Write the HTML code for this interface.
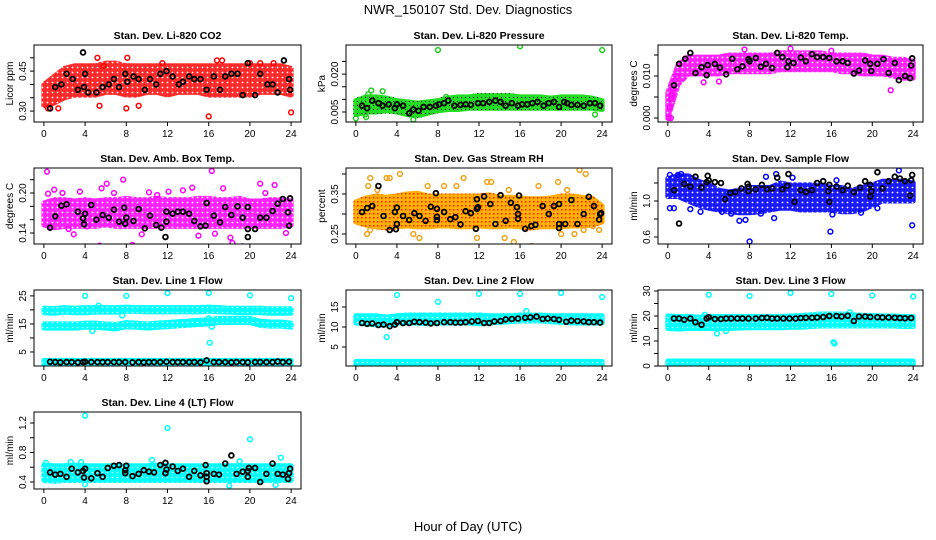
<!DOCTYPE html>
<html><head><meta charset="utf-8"><style>
body{margin:0;background:#fff}
svg{display:block}
text{font-family:"Liberation Sans",sans-serif}
</style></head><body>
<svg id="c" width="936" height="540" xmlns="http://www.w3.org/2000/svg">
<defs>
<pattern id="pat-red" width="5" height="5" patternUnits="userSpaceOnUse"><rect width="5" height="5" fill="#ff2a2a"/><circle cx="2.5" cy="2.5" r="0.9" fill="#fff"/></pattern>
<pattern id="pat-green" width="4" height="4" patternUnits="userSpaceOnUse"><rect width="4" height="4" fill="#22dd22"/><rect x="1" y="1" width="1" height="1" fill="#000"/></pattern>
<pattern id="pat-mag" width="5" height="5" patternUnits="userSpaceOnUse"><rect width="5" height="5" fill="#ff22ff"/><circle cx="2.5" cy="2.5" r="0.9" fill="#fff"/></pattern>
<pattern id="pat-orange" width="4" height="4" patternUnits="userSpaceOnUse"><rect width="4" height="4" fill="#ffb000"/><rect x="1" y="1" width="1.5" height="1.5" fill="#ff2000"/></pattern>
<pattern id="pat-blue" width="5" height="5" patternUnits="userSpaceOnUse"><rect width="5" height="5" fill="#1a1aff"/><circle cx="2.5" cy="2.5" r="0.9" fill="#fff"/></pattern>
<pattern id="pat-cyan" width="5" height="5" patternUnits="userSpaceOnUse"><rect width="5" height="5" fill="#00ffff"/><circle cx="2.5" cy="2.5" r="0.8" fill="#dfffff"/></pattern>
</defs>
<rect width="936" height="540" fill="#fff"/>
<text x="468" y="14" text-anchor="middle" font-size="13">NWR_150107  Std. Dev. Diagnostics</text>
<text x="468" y="531" text-anchor="middle" font-size="13">Hour of Day (UTC)</text>
</svg>
<script>
const hours=[0,1,2,3,4,5,6,7,8,9,10,11,12,13,14,15,16,17,18,19,20,21,22,23,24];
// P1 CO2
const co2Lo=[0.32,0.33,0.35,0.36,0.36,0.36,0.37,0.37,0.36,0.36,0.37,0.37,0.36,0.37,0.37,0.37,0.36,0.36,0.36,0.36,0.36,0.37,0.37,0.37,0.36];
const co2Hi=[0.40,0.43,0.46,0.47,0.47,0.47,0.48,0.48,0.47,0.47,0.47,0.47,0.47,0.47,0.47,0.47,0.47,0.47,0.47,0.47,0.47,0.47,0.47,0.47,0.46];
const co2OutX=[5.2,8.1,8.0,16.0,24.0,16.8,17.3,20.0,21.0,22.3,5.8,0.4,1.4,9.2,5.4,11.5];
const co2OutY=[0.50,0.50,0.31,0.28,0.295,0.49,0.49,0.48,0.48,0.48,0.47,0.31,0.31,0.32,0.32,0.48];
const co2BlkX=[3.8,0.6,1.1,1.7,2.2,2.8,3.3,3.9,4.0,4.3,5.1,5.7,6.3,6.8,7.3,7.9,8.1,8.7,9.2,9.8,10.3,10.9,11.3,11.9,12.5,13.1,13.5,14.1,14.6,15.2,15.8,16.5,17.1,17.6,18.2,18.8,19.3,19.8,20.5,21.0,21.7,22.2,22.7,23.3,23.8,23.9];
const co2BlkY=[0.52,0.31,0.39,0.40,0.44,0.42,0.38,0.39,0.44,0.37,0.37,0.39,0.40,0.42,0.39,0.44,0.41,0.43,0.42,0.38,0.42,0.40,0.44,0.45,0.43,0.40,0.41,0.43,0.42,0.42,0.38,0.43,0.38,0.43,0.44,0.44,0.36,0.48,0.36,0.44,0.40,0.40,0.37,0.49,0.42,0.38];
// P2 Pressure
const prLo=[0.004,0.005,0.005,0.0055,0.005,0.004,0.0035,0.0045,0.0055,0.006,0.006,0.0065,0.0065,0.0065,0.0065,0.0065,0.0065,0.0065,0.0065,0.0065,0.0065,0.0065,0.0065,0.0065,0.006];
const prHi=[0.0095,0.011,0.011,0.0105,0.0095,0.009,0.0085,0.009,0.0095,0.0105,0.011,0.011,0.0115,0.0115,0.0115,0.0115,0.011,0.011,0.011,0.0105,0.011,0.011,0.011,0.0105,0.0095];
const prOutX=[8,16,24,1.5,2.6,0,1,8.8,5.6,23.3,0.9,1.2];
const prOutY=[0.0295,0.031,0.0295,0.0135,0.0132,0.0025,0.003,0.011,0.002,0.004,0.004,0.012];
const prBlkX=[0.6,1.1,1.6,2.2,2.6,3.2,3.8,4.0,4.6,5.2,5.6,6.1,6.6,7.2,7.8,8.1,8.6,9.0,9.6,10.2,10.7,11.2,11.9,12.4,13.0,13.6,14.1,14.6,15.2,15.8,16.2,16.7,17.2,17.7,18.3,18.8,19.3,19.8,20.3,20.6,21.0,21.6,22.2,22.8,23.3,23.8];
const prBlkY=[0.0075,0.0065,0.0095,0.0085,0.0075,0.008,0.0065,0.008,0.0075,0.0045,0.006,0.0055,0.007,0.007,0.0075,0.008,0.0085,0.0095,0.0075,0.0078,0.008,0.0078,0.0085,0.0085,0.009,0.0095,0.009,0.0075,0.0085,0.0075,0.008,0.008,0.0085,0.009,0.0075,0.0085,0.009,0.007,0.009,0.0085,0.0078,0.0078,0.0075,0.0085,0.0085,0.0075];
// P3 Li-820 Temp
const ltLo=[0.0,0.008,0.0105,0.0105,0.0105,0.0105,0.011,0.011,0.011,0.011,0.011,0.0115,0.0115,0.0115,0.0115,0.0115,0.0115,0.011,0.011,0.0105,0.0105,0.0105,0.010,0.0095,0.0095];
const ltHi=[0.006,0.0125,0.0145,0.0145,0.0145,0.0145,0.015,0.015,0.015,0.015,0.015,0.0155,0.0155,0.0155,0.0155,0.0155,0.015,0.015,0.015,0.015,0.0145,0.0145,0.014,0.014,0.0135];
const ltOutX=[0.1,0.3,0.2,0.3,0.4,0.5,21.8,16.0,12.0,7.5,3.5,5.0,0.7,0.9];
const ltOutY=[0.0,0.0,0.0025,0.0045,0.0055,0.007,0.0066,0.016,0.0165,0.0163,0.0085,0.0087,0.009,0.010];
const ltBlkX=[0.6,1.1,1.7,2.2,2.7,3.3,3.8,3.9,4.6,5.1,5.7,6.3,6.8,7.3,7.9,8.0,8.6,9.1,9.6,10.2,10.7,11.2,11.7,11.8,12.3,13.0,13.5,14.1,14.6,15.2,15.8,16.5,17.1,17.6,18.2,18.7,19.3,19.8,19.9,20.5,21.1,21.6,22.2,22.6,23.2,23.7,23.8,23.9];
const ltBlkY=[0.0078,0.0129,0.0141,0.0155,0.0107,0.0121,0.0102,0.0126,0.0129,0.0120,0.0104,0.0141,0.0116,0.0123,0.0140,0.0135,0.0143,0.0122,0.0129,0.0119,0.0155,0.0145,0.0121,0.0135,0.0131,0.0144,0.0135,0.0152,0.0145,0.0145,0.0143,0.0135,0.0135,0.0131,0.0106,0.0113,0.0137,0.0129,0.0112,0.0129,0.0140,0.0107,0.0131,0.0090,0.0100,0.0095,0.0125,0.0142];
// P4 Amb box temp
const abLo=[0.152,0.148,0.150,0.150,0.150,0.150,0.152,0.150,0.150,0.150,0.150,0.150,0.150,0.150,0.150,0.150,0.150,0.150,0.150,0.150,0.150,0.150,0.150,0.150,0.152];
const abHi=[0.185,0.190,0.190,0.188,0.190,0.188,0.190,0.190,0.192,0.190,0.190,0.192,0.190,0.190,0.190,0.192,0.192,0.190,0.190,0.192,0.188,0.188,0.190,0.190,0.188];
const abOutX=[0.3,0.4,1.0,1.8,2.4,2.9,4.2,5.4,5.6,6.1,6.8,7.7,8.6,9.5,10.2,12.1,13.5,14.4,15.0,16.3,16.6,17.4,18.1,18.3,19.3,21.0,21.5,22.4,23.5,3.5,11.0];
const abOutY=[0.232,0.199,0.205,0.200,0.146,0.138,0.150,0.121,0.207,0.214,0.200,0.220,0.122,0.138,0.201,0.202,0.204,0.208,0.136,0.233,0.139,0.207,0.133,0.125,0.120,0.214,0.200,0.212,0.140,0.202,0.197];
const abBlkX=[0.6,1.1,1.7,2.2,3.3,3.8,3.9,4.0,4.6,5.1,5.7,6.3,6.8,7.3,7.8,7.9,8.0,8.7,9.2,9.8,10.3,10.9,11.4,11.9,11.9,11.8,12.5,13.0,13.5,14.1,14.6,15.2,15.7,15.8,16.5,17.1,17.6,18.2,18.8,19.3,19.8,19.8,19.8,20.5,21.0,21.6,22.2,22.7,23.2,23.7,23.8,23.9];
const abBlkY=[0.148,0.165,0.181,0.183,0.172,0.162,0.153,0.169,0.182,0.160,0.167,0.163,0.175,0.157,0.178,0.154,0.163,0.158,0.176,0.147,0.166,0.152,0.148,0.172,0.157,0.134,0.169,0.172,0.172,0.169,0.158,0.150,0.151,0.185,0.166,0.156,0.179,0.167,0.180,0.163,0.179,0.146,0.134,0.146,0.163,0.163,0.173,0.184,0.191,0.171,0.151,0.192];
// P5 Gas stream RH
const rhLo=[0.280,0.272,0.268,0.265,0.268,0.270,0.268,0.268,0.270,0.270,0.268,0.268,0.270,0.268,0.268,0.270,0.268,0.265,0.268,0.268,0.268,0.270,0.270,0.272,0.280];
const rhHi=[0.330,0.340,0.345,0.342,0.345,0.350,0.352,0.345,0.345,0.345,0.345,0.345,0.345,0.348,0.342,0.342,0.340,0.338,0.338,0.340,0.345,0.345,0.342,0.340,0.320];
const rhOutX=[1.2,1.4,1.4,1.1,2.1,3.0,3.3,4.3,5.6,6.2,7.0,8.6,9.8,10.5,11.8,12.8,13.2,14.5,14.9,15.4,17.1,17.8,20.0,20.6,21.3,22.2,22.4,23.1,19.7,23.7,21.8];
const rhOutY=[0.37,0.39,0.26,0.25,0.36,0.39,0.39,0.40,0.25,0.24,0.37,0.37,0.37,0.39,0.24,0.38,0.38,0.24,0.36,0.23,0.22,0.37,0.25,0.36,0.25,0.26,0.40,0.27,0.38,0.26,0.41];
const rhBlkX=[0.6,1.1,1.6,2.2,2.7,3.3,3.8,3.9,4.0,4.0,4.6,5.2,5.7,6.2,6.8,7.3,7.8,7.9,7.9,7.9,8.6,9.2,9.7,10.2,10.7,11.2,11.8,11.8,11.9,11.7,12.5,13.1,13.6,14.1,14.6,15.1,15.7,15.8,15.8,15.9,16.5,17.1,17.5,18.2,18.8,19.3,19.8,19.8,19.8,20.4,21.0,21.6,22.2,22.7,23.2,23.7,23.8,23.9];
const rhBlkY=[0.305,0.315,0.32,0.37,0.295,0.26,0.305,0.262,0.316,0.275,0.295,0.285,0.302,0.295,0.283,0.318,0.352,0.313,0.293,0.285,0.305,0.287,0.292,0.274,0.307,0.302,0.313,0.337,0.317,0.263,0.344,0.325,0.275,0.347,0.283,0.328,0.317,0.30,0.288,0.346,0.263,0.27,0.273,0.32,0.30,0.32,0.325,0.275,0.265,0.275,0.335,0.275,0.30,0.343,0.32,0.286,0.30,0.302];
// P6 Sample flow
const sfLo=[1.05,1.05,1.00,0.95,0.92,0.90,0.88,0.87,0.87,0.88,0.90,0.92,0.92,0.90,0.90,0.90,0.90,0.88,0.88,0.90,0.95,1.00,1.00,1.00,1.00];
const sfHi=[1.25,1.28,1.28,1.22,1.18,1.12,1.10,1.12,1.15,1.15,1.15,1.20,1.18,1.18,1.18,1.18,1.15,1.15,1.12,1.15,1.18,1.22,1.22,1.22,1.20];
const sfOutX=[0.2,1.0,1.3,0.2,0.6,2.2,3.2,5.3,6.2,7.0,7.6,8.0,9.1,9.6,10.4,10.6,12.2,15.9,16.1,16.5,18.9,22.6,23.9,20.5];
const sfOutY=[1.29,1.29,1.30,0.92,0.92,0.91,0.88,0.88,0.86,0.78,0.79,0.55,0.86,1.27,0.81,1.30,1.26,0.66,0.85,1.23,0.87,1.34,0.73,0.92];
const sfBlkX=[0.6,1.1,1.6,2.2,2.7,3.3,3.8,3.9,4.0,4.6,5.2,5.6,6.1,6.6,7.2,7.8,7.9,7.9,8.6,9.2,9.7,10.2,10.7,11.2,11.7,11.8,12.4,13.0,13.5,14.1,14.6,15.2,15.7,15.8,15.8,16.5,17.1,17.6,18.2,18.8,19.3,19.8,19.8,19.9,20.5,21.0,21.6,22.2,22.7,23.2,23.7,23.8,23.9];
const sfBlkY=[1.12,0.75,1.19,1.16,1.27,1.15,1.21,1.28,1.23,1.21,1.20,1.02,1.09,1.10,1.14,1.19,1.16,1.11,1.13,1.18,1.13,1.14,1.26,1.13,1.17,1.30,0.99,1.12,1.10,1.12,1.20,1.22,1.11,0.99,1.18,1.16,1.12,1.17,1.10,1.15,1.22,1.18,1.05,1.11,1.32,1.14,1.22,1.27,1.25,1.22,1.06,1.23,1.29];
// shared black x for line-flow panels
const lineBlkX=[0.6,1.1,1.6,2.2,2.7,3.3,3.8,4.0,4.6,5.2,5.7,6.2,6.8,7.3,7.9,8.6,9.2,9.7,10.2,10.7,11.3,11.9,12.5,13.0,13.5,14.1,14.6,15.2,15.8,16.5,17.0,17.6,18.2,18.7,19.3,19.8,20.5,21.0,21.6,22.2,22.7,23.2,23.8];
// P7 Line 1
const l1UpLo=[19.0,18.8,19.2,19.0,19.0,19.2,19.2,19.2,19.5,19.5,19.3,19.3,19.3,19.3,19.3,19.3,19.5,19.3,19.2,19.0,19.0,19.0,18.8,18.8,18.8];
const l1UpHi=[20.6,20.5,20.8,20.6,20.8,20.8,20.8,20.8,21.0,20.8,20.8,20.8,20.8,20.8,20.8,20.8,21.0,20.8,20.6,20.6,20.6,20.6,20.4,20.4,20.4];
const l1MdLo=[13.5,13.5,13.5,13.5,13.8,13.8,13.5,13.2,14.0,13.8,13.5,13.8,14.0,14.3,14.5,14.8,15.0,15.5,15.5,15.5,15.5,14.5,14.2,14.2,13.8];
const l1MdHi=[15.0,15.0,15.0,15.0,15.3,15.3,15.0,14.8,15.5,15.3,15.0,15.3,15.5,15.8,16.0,16.3,16.5,17.0,17.0,17.0,17.0,16.0,15.7,15.7,15.3];
const l1BtLo=[0.6,0.6,0.6,0.6,0.6,0.6,0.6,0.6,0.6,0.6,0.6,0.6,0.6,0.6,0.6,0.6,0.6,0.6,0.6,0.6,0.6,0.6,0.6,0.6,0.6];
const l1BtHi=[2.0,2.0,2.0,2.0,2.0,2.0,2.0,2.0,2.0,2.0,2.0,2.0,2.0,2.0,2.0,2.0,2.0,2.0,2.0,2.0,2.0,2.0,2.0,2.0,2.0];
const l1OutX=[4,8,12,16,20,24,16.1,16.3,16.0,5.3,4.7,7.6];
const l1OutY=[25,25,26,26,25.2,24.2,8.3,14,17,21.5,12.5,18];
const l1BlkY=[1.5,1.4,1.3,1.4,1.4,1.3,1.4,1.5,1.4,1.4,1.4,1.4,1.4,1.4,1.4,1.3,1.4,1.3,1.4,1.4,1.4,1.5,1.4,1.4,1.4,1.4,1.4,1.3,2.0,1.4,1.4,1.4,1.3,1.4,1.4,1.3,1.4,1.4,1.4,1.4,1.6,1.4,1.5];
// P8 Line 2
const l2UpLo=[11.0,10.8,10.5,10.5,11.0,11.0,11.0,10.8,11.0,11.0,11.0,11.0,10.8,11.0,11.2,11.3,11.5,11.5,11.5,11.3,11.2,11.0,11.0,11.0,11.0];
const l2UpHi=[12.8,12.8,12.8,12.5,12.8,13.0,13.0,13.0,13.0,13.0,13.0,13.0,13.0,12.8,12.8,12.8,13.0,13.0,13.0,12.8,12.8,12.8,12.8,12.8,12.8];
const l2BtLo=[0.5,0.5,0.5,0.5,0.5,0.5,0.5,0.5,0.5,0.5,0.5,0.5,0.5,0.5,0.5,0.5,0.5,0.5,0.5,0.5,0.5,0.5,0.5,0.5,0.5];
const l2BtHi=[1.4,1.4,1.4,1.4,1.4,1.4,1.4,1.4,1.4,1.4,1.4,1.4,1.4,1.4,1.4,1.4,1.4,1.4,1.4,1.4,1.4,1.4,1.4,1.4,1.4];
const l2OutX=[4,8,12,16,20,24,3,16.6];
const l2OutY=[18,16.3,18.3,18.3,18.5,17.5,7.5,14];
const l2BlkY=[11,10.8,10.9,10.5,10.6,10.2,10.6,11.2,11,11,11.3,11.2,11.1,10.9,11,11.2,11.2,11.1,11.1,11.2,11.4,11.5,11,11,11.4,11.5,11.9,12,12.1,12.3,12.4,12.6,12,12.1,12,11.8,11.3,11.6,11.5,11.4,11.2,11.2,11.1];
// P9 Line 3
const l3UpLo=[15.0,14.8,15.0,15.0,15.0,15.0,15.0,15.2,15.3,15.3,15.3,15.3,15.5,15.5,15.8,16.0,16.0,16.0,16.0,16.0,16.0,16.0,16.0,15.8,15.8];
const l3UpHi=[20.0,19.8,19.8,19.5,19.8,19.8,19.8,19.8,19.8,19.8,19.8,19.8,20.0,20.2,20.5,20.8,20.8,20.8,20.5,20.3,20.2,20.0,20.0,19.8,19.8];
const l3BtLo=[0.6,0.6,0.6,0.6,0.6,0.6,0.6,0.6,0.6,0.6,0.6,0.6,0.6,0.6,0.6,0.6,0.6,0.6,0.6,0.6,0.6,0.6,0.6,0.6,0.6];
const l3BtHi=[2.0,2.0,2.0,2.0,2.0,2.0,2.0,2.0,2.0,2.0,2.0,2.0,2.0,2.0,2.0,2.0,2.0,2.0,2.0,2.0,2.0,2.0,2.0,2.0,2.0];
const l3OutX=[4,8,12,16,20,24,16.2,16.3,4.8,5.7,3.6,17.8];
const l3OutY=[28.5,28,29.2,28.8,28.2,27.8,9.5,9,13,14,20.5,21.5];
const l3BlkY=[19,19,18.5,19,17.5,16.5,19,19.5,18.8,18.8,19,19,19,19,19,19,19.2,19.3,19,19,19,19,19,19.2,19.3,19.3,19.4,19.6,20,20,19.8,20.1,18,19.8,19.8,19.6,19.5,19.4,19.4,19.3,19.2,19.1,19.2];
// P10 Line 4
const l4Lo=[0.42,0.41,0.42,0.42,0.42,0.42,0.42,0.42,0.42,0.42,0.42,0.42,0.42,0.42,0.42,0.42,0.42,0.42,0.42,0.42,0.42,0.42,0.42,0.42,0.42];
const l4Hi=[0.63,0.62,0.62,0.63,0.62,0.62,0.62,0.62,0.62,0.62,0.62,0.63,0.62,0.62,0.62,0.62,0.62,0.62,0.62,0.62,0.62,0.62,0.62,0.62,0.62];
const l4OutX=[4,12,20,4,18,22.5,23,10.5,19,0.2,2.6,3.6];
const l4OutY=[1.30,1.13,0.98,0.37,0.35,0.36,0.73,0.70,0.68,0.66,0.67,0.67];
const l4BlkX=[0.6,1.1,1.6,2.2,2.7,3.3,3.8,3.9,4.0,4.6,5.2,5.7,6.2,6.8,7.3,7.9,7.9,8.0,8.6,9.2,9.7,10.2,10.7,11.3,11.8,11.8,11.9,12.5,13.0,13.5,14.1,14.6,15.2,15.7,15.8,15.8,15.8,16.5,17.0,17.6,18.2,18.7,19.3,19.8,19.8,19.9,20.5,21.0,21.6,22.2,22.7,23.2,23.7,23.8,23.9];
const l4BlkY=[0.53,0.50,0.51,0.47,0.58,0.53,0.55,0.46,0.58,0.45,0.52,0.47,0.59,0.62,0.63,0.56,0.52,0.62,0.48,0.51,0.56,0.54,0.53,0.63,0.66,0.52,0.57,0.61,0.55,0.58,0.47,0.55,0.49,0.63,0.52,0.41,0.47,0.51,0.50,0.65,0.76,0.51,0.54,0.55,0.47,0.59,0.59,0.40,0.51,0.65,0.51,0.50,0.44,0.52,0.58];
const xTicks=[0,4,8,12,16,20,24];

const NS='http://www.w3.org/2000/svg';
const svg=document.getElementById('c');
function mk(tag,attrs,parent){const e=document.createElementNS(NS,tag);for(const k in attrs)e.setAttribute(k,attrs[k]);(parent||svg).appendChild(e);return e;}
const cols=[[34,301],[346,612],[658,923]];
const rows=[[45,122],[168,244],[290,366],[412,489]];

function panel(o){
  const [L,R]=cols[o.col],[T,B]=rows[o.row];
  const g=mk('g',{});
  
  
  const xs=v=>L+(v+0.96)/25.92*(R-L);
  const ys=v=>B-(v-o.y0)/(o.y1-o.y0)*(B-T);
  const clip='cl'+o.name;
  const cp=mk('clipPath',{id:clip},g);mk('rect',{x:L,y:T,width:R-L,height:B-T},cp);
  const pg=mk('g',{'clip-path':'url(#'+clip+')'},g);
  (o.bands||[]).forEach(b=>{
    let pts=hours.map((h,i)=>xs(h)+','+ys(b[1][i]));
    for(let i=hours.length-1;i>=0;i--)pts.push(xs(hours[i])+','+ys(b[0][i]));
    const p=mk('polygon',{points:pts.join(' '),fill:'url(#'+o.pat+')',stroke:'url(#'+o.pat+')','stroke-width':5,'stroke-linejoin':'round'},pg);
    
    
  });
  (o.outX||[]).forEach((x,i)=>{
    const c=mk('circle',{cx:xs(x),cy:ys(o.outY[i]),r:2.4,fill:'none',stroke:o.color,'stroke-width':1.5},pg);
    
    
  });
  (o.blkX||[]).forEach((x,i)=>{
    const c=mk('circle',{cx:xs(x),cy:ys(o.blkY[i]),r:2.4,fill:'none',stroke:'#000','stroke-width':1.8},pg);
    
    
  });
  mk('rect',{x:L,y:T,width:R-L,height:B-T,fill:'none',stroke:'#000','stroke-width':1},g);
  const t=mk('text',{x:(L+R)/2,y:T-6,'text-anchor':'middle','font-size':10.5,'font-weight':'bold'},g);
  t.textContent=o.title;
  
  
  xTicks.forEach(v=>{
    mk('line',{x1:xs(v),x2:xs(v),y1:B,y2:B+4,stroke:'#000'},g);
    const tx=mk('text',{x:xs(v),y:B+15,'text-anchor':'middle','font-size':10},g);
    tx.textContent=v;
    
    
  });
  o.yt.forEach(v=>{
    mk('line',{x1:L-4,x2:L,y1:ys(v),y2:ys(v),stroke:'#000'},g);
  });
  o.yl.forEach(v=>{
    const y=ys(parseFloat(v));
    const tx=mk('text',{x:L-8,y:y,'text-anchor':'middle','font-size':10,transform:`rotate(-90 ${L-8} ${y})`},g);
    tx.textContent=v;
    
    
  });
  const yc=(T+B)/2;
  const ya=mk('text',{x:L-21,y:yc,'text-anchor':'middle','font-size':10,transform:`rotate(-90 ${L-21} ${yc})`},g);
  ya.textContent=o.ylab;
  
  
}
panel({name:'co2-panel',col:0,row:0,title:'Stan. Dev. Li-820 CO2',ylab:'Licor ppm',color:'#ff0000',pat:'pat-red',y0:0.259,y1:0.548,yt:[0.30,0.35,0.40,0.45,0.50],yl:['0.30','0.45'],bands:[[co2Lo,co2Hi]],outX:co2OutX,outY:co2OutY,blkX:co2BlkX,blkY:co2BlkY});
panel({name:'pressure-panel',col:1,row:0,title:'Stan. Dev. Li-820 Pressure',ylab:'kPa',color:'#22cc22',pat:'pat-green',y0:0.00105,y1:0.0315,yt:[0.005,0.010,0.015,0.020,0.025],yl:['0.005','0.020'],bands:[[prLo,prHi]],outX:prOutX,outY:prOutY,blkX:prBlkX,blkY:prBlkY});
panel({name:'licor-temp-panel',col:2,row:0,title:'Stan. Dev. Li-820 Temp.',ylab:'degrees C',color:'#ff00ff',pat:'pat-mag',y0:-0.00095,y1:0.01738,yt:[0,0.005,0.010,0.015],yl:['0.000','0.010'],bands:[[ltLo,ltHi]],outX:ltOutX,outY:ltOutY,blkX:ltBlkX,blkY:ltBlkY});
panel({name:'amb-box-temp-panel',col:0,row:1,title:'Stan. Dev. Amb. Box Temp.',ylab:'degrees C',color:'#ff00ff',pat:'pat-mag',y0:0.1235,y1:0.2375,yt:[0.14,0.16,0.18,0.20,0.22],yl:['0.14','0.20'],bands:[[abLo,abHi]],outX:abOutX,outY:abOutY,blkX:abBlkX,blkY:abBlkY});
panel({name:'gas-rh-panel',col:1,row:1,title:'Stan. Dev. Gas Stream RH',ylab:'percent',color:'#f2a21c',pat:'pat-orange',y0:0.225,y1:0.415,yt:[0.25,0.30,0.35,0.40],yl:['0.25','0.35'],bands:[[rhLo,rhHi]],outX:rhOutX,outY:rhOutY,blkX:rhBlkX,blkY:rhBlkY});
panel({name:'sample-flow-panel',col:2,row:1,title:'Stan. Dev. Sample Flow',ylab:'ml/min',color:'#0000ff',pat:'pat-blue',y0:0.522,y1:1.367,yt:[0.6,0.8,1.0,1.2],yl:['0.6','1.0'],bands:[[sfLo,sfHi]],outX:sfOutX,outY:sfOutY,blkX:sfBlkX,blkY:sfBlkY});
panel({name:'line1-flow-panel',col:0,row:2,title:'Stan. Dev. Line 1 Flow',ylab:'ml/min',color:'#00ffff',pat:'pat-cyan',y0:0,y1:27.1,yt:[5,10,15,20,25],yl:['5','15','25'],bands:[[l1UpLo,l1UpHi],[l1MdLo,l1MdHi],[l1BtLo,l1BtHi]],outX:l1OutX,outY:l1OutY,blkX:lineBlkX,blkY:l1BlkY});
panel({name:'line2-flow-panel',col:1,row:2,title:'Stan. Dev. Line 2 Flow',ylab:'ml/min',color:'#00ffff',pat:'pat-cyan',y0:0.25,y1:19.25,yt:[5,10,15],yl:['5','10','15'],bands:[[l2UpLo,l2UpHi],[l2BtLo,l2BtHi]],outX:l2OutX,outY:l2OutY,blkX:lineBlkX,blkY:l2BlkY});
panel({name:'line3-flow-panel',col:2,row:2,title:'Stan. Dev. Line 3 Flow',ylab:'ml/min',color:'#00ffff',pat:'pat-cyan',y0:0,y1:30.4,yt:[0,5,10,15,20,25,30],yl:['0','10','20','30'],bands:[[l3UpLo,l3UpHi],[l3BtLo,l3BtHi]],outX:l3OutX,outY:l3OutY,blkX:lineBlkX,blkY:l3BlkY});
panel({name:'line4-flow-panel',col:0,row:3,title:'Stan. Dev. Line 4 (LT) Flow',ylab:'ml/min',color:'#00ffff',pat:'pat-cyan',y0:0.305,y1:1.349,yt:[0.4,0.6,0.8,1.0,1.2],yl:['0.4','0.8','1.2'],bands:[[l4Lo,l4Hi]],outX:l4OutX,outY:l4OutY,blkX:l4BlkX,blkY:l4BlkY});
</script>
</body></html>
